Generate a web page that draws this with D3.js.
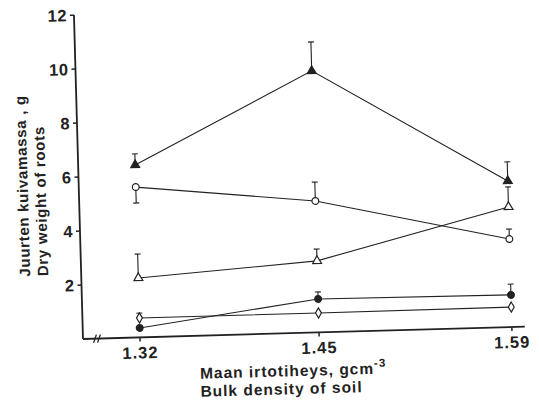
<!DOCTYPE html>
<html>
<head>
<meta charset="utf-8">
<script src="https://cdn.jsdelivr.net/npm/d3@7"></script>
<style>
  body { margin: 0; background: #fff; }
  svg { display: block; }
  text { font-family: "Liberation Sans", Arial, sans-serif; font-weight: bold; fill: #222; }
</style>
</head>
<body>
<div id="chart"></div>
<script>
// bulk density of soil, g/cm3
var density = [1.32, 1.45, 1.59];
var yTicks = [2, 4, 6, 8, 10, 12];

// dry weight of roots, g  (mean) and end of the error bar
var filledTri = [6.39, 9.69, 5.41];
var filledTriErr = [6.80, 10.76, 6.12];
var openCircle = [5.57, 4.87, 3.26];
var openCircleErr = [4.98, 5.57, 3.63];
var openTri = [2.20, 2.65, 4.45];
var openTriErr = [3.09, 3.09, 5.19];
var filledCircle = [0.35, 1.24, 1.19];
var filledCircleErr = [null, 1.50, 1.59];
var diamond = [0.72, 0.72, 0.74];
var diamondErr = [0.90, null, null];

var series = [
  {vals: filledTri, err: filledTriErr, shape: d3.symbolTriangle, fill: "#222", size: 34},
  {vals: openCircle, err: openCircleErr, shape: d3.symbolCircle, fill: "#fff", size: 36},
  {vals: openTri, err: openTriErr, shape: d3.symbolTriangle, fill: "#fff", size: 34},
  {vals: filledCircle, err: filledCircleErr, shape: d3.symbolCircle, fill: "#222", size: 36},
  {vals: diamond, err: diamondErr, shape: d3.symbolDiamond, fill: "#fff", size: 30}
];

var W = 539, H = 406;
var svg = d3.select("#chart").append("svg").attr("width", W).attr("height", H);

// the scanned figure is slightly tilted, so draw everything in a rotated group
var g = svg.append("g").attr("transform", "translate(83,339) rotate(-1.6)");

var x = d3.scaleLinear().domain([1.32, 1.59]).range([57, 429]);
var y = d3.scaleLinear().domain([0, 12]).range([0, -324]);

var ink = "#222";

// axes
g.append("line").attr("x1", 0).attr("y1", 0).attr("x2", 0).attr("y2", y(12))
  .attr("stroke", ink).attr("stroke-width", 1.8);
g.append("line").attr("x1", 0).attr("y1", 0).attr("x2", 442).attr("y2", 0)
  .attr("stroke", ink).attr("stroke-width", 1.8);

// break marks on x axis
[12, 16].forEach(function (bx) {
  g.append("line").attr("x1", bx - 1.5).attr("y1", 4).attr("x2", bx + 1.5).attr("y2", -4)
    .attr("stroke", ink).attr("stroke-width", 1.3);
});

// y ticks
g.selectAll(".yt").data(yTicks).enter().append("line")
  .attr("x1", -4).attr("x2", 0).attr("y1", y).attr("y2", y)
  .attr("stroke", ink).attr("stroke-width", 1.5);
g.selectAll(".yl").data(yTicks).enter().append("text")
  .attr("x", -7).attr("y", function (d) { return y(d) + 6; })
  .attr("text-anchor", "end").attr("font-size", 16.5).attr("letter-spacing", 0.5)
  .text(function (d) { return d; });

// x ticks
g.selectAll(".xt").data(density).enter().append("line")
  .attr("x1", x).attr("x2", x).attr("y1", 0).attr("y2", 4)
  .attr("stroke", ink).attr("stroke-width", 1.5);
g.selectAll(".xl").data(density).enter().append("text")
  .attr("x", x).attr("y", 21).attr("text-anchor", "middle").attr("font-size", 16.5)
  .attr("letter-spacing", 1)
  .text(function (d) { return d.toFixed(2); });

// axis titles
var xt = g.append("text").attr("x", 116).attr("y", 43).attr("font-size", 15.5).attr("letter-spacing", 1);
xt.append("tspan").text("Maan irtotiheys, gcm");
xt.append("tspan").attr("dy", -7).attr("font-size", 11.5).text("-3");
g.append("text").attr("x", 116).attr("y", 61).attr("font-size", 15.5).attr("letter-spacing", 1)
  .text("Bulk density of soil");

g.append("text").attr("transform", "translate(-51,-64) rotate(-90)").attr("font-size", 15)
  .attr("letter-spacing", 0.7).text("Juurten kuivamassa , g");
g.append("text").attr("transform", "translate(-33,-64) rotate(-90)").attr("font-size", 15)
  .attr("letter-spacing", 0.7).text("Dry weight of roots");

var line = d3.line().x(function (d, i) { return x(density[i]); }).y(function (d) { return y(d); });

series.forEach(function (s) {
  // error bars
  s.err.forEach(function (e, i) {
    if (e == null) return;
    var cx = x(density[i]);
    g.append("line").attr("x1", cx).attr("x2", cx).attr("y1", y(s.vals[i])).attr("y2", y(e))
      .attr("stroke", ink).attr("stroke-width", 1.1);
    g.append("line").attr("x1", cx - 3).attr("x2", cx + 3).attr("y1", y(e)).attr("y2", y(e))
      .attr("stroke", ink).attr("stroke-width", 1.1);
  });
  g.append("path").datum(s.vals).attr("d", line)
    .attr("fill", "none").attr("stroke", ink).attr("stroke-width", 1.1);
  g.selectAll(null).data(s.vals).enter().append("path")
    .attr("d", d3.symbol().type(s.shape).size(s.size))
    .attr("transform", function (d, i) { return "translate(" + x(density[i]) + "," + y(d) + ")"; })
    .attr("fill", s.fill).attr("stroke", ink).attr("stroke-width", 1.2);
});
</script>
</body>
</html>
